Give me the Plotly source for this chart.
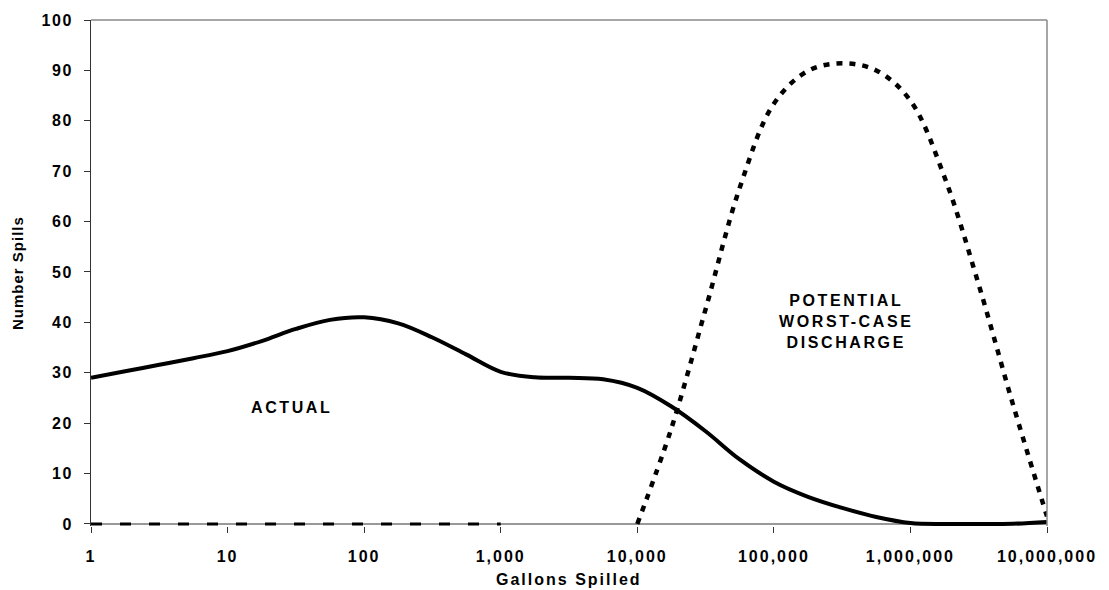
import plotly.graph_objects as go

# Gallons spilled (sample points at quarter-decade steps on the log axis)
gallons = [1, 1.778, 3.162, 5.623, 10, 17.78, 31.62, 56.23, 100, 177.8, 316.2, 562.3,
           1000, 1778, 3162, 5623, 10000, 17783, 31623, 56234, 100000, 177828, 316228,
           562341, 1000000, 1778279, 3162278, 5623413, 10000000]

actual = [29.0, 30.3, 31.6, 32.9, 34.3, 36.3, 38.7, 40.5, 41.0, 39.8, 37.0, 33.6,
          30.2, 29.1, 29.0, 28.7, 27.0, 23.3, 18.4, 12.8, 8.4, 5.4, 3.2, 1.4,
          0.2, 0.0, 0.0, 0.05, 0.4]

potential_gallons = [10000, 17783, 31623, 56234, 100000, 177828, 316228, 562341,
                     1000000, 1778279, 3162278, 5623413, 10000000]
potential = [0, 19, 42.6, 66.7, 83.4, 89.9, 91.4, 90.0, 84.0, 68.8, 47.5, 23.8, 1.5]

potential_low_gallons = [1, 1000]
potential_low = [0, 0]

x_ticks = [1, 10, 100, 1000, 10000, 100000, 1000000, 10000000]
x_labels = ["1", "10", "100", "1,000", "10,000", "100,000", "1,000,000", "10,000,000"]
y_ticks = [0, 10, 20, 30, 40, 50, 60, 70, 80, 90, 100]

FONT = "Liberation Sans, Arial, sans-serif"


def sp(text, px):
    return f'<span style="letter-spacing:{px}px">{text}</span>'


fig = go.Figure()
fig.add_trace(go.Scatter(x=potential_low_gallons, y=potential_low, mode="lines",
                         line=dict(color="black", width=3, dash="11px,18px"),
                         showlegend=False, hoverinfo="skip"))
fig.add_trace(go.Scatter(x=gallons, y=actual, mode="lines",
                         line=dict(color="black", width=4, shape="spline", smoothing=1),
                         showlegend=False))
fig.add_trace(go.Scatter(x=potential_gallons, y=potential, mode="lines",
                         line=dict(color="black", width=4.5, shape="spline", smoothing=1,
                                   dash="6px,7px"),
                         showlegend=False))

fig.update_layout(
    width=1109, height=590,
    margin=dict(l=91, r=54, t=16, b=64, pad=0),
    paper_bgcolor="white", plot_bgcolor="white",
    font=dict(family=FONT, size=16, color="black", weight="bold"),
    xaxis=dict(type="log", range=[0, 7], tickvals=x_ticks,
               ticktext=[sp(t, 2) for t in x_labels],
               ticks="outside", ticklen=6, tickcolor="#333", tickwidth=1,
               showgrid=False, zeroline=False, showline=False,
               tickfont=dict(family=FONT, size=16, color="black", weight="bold"),
               ticklabelstandoff=10),
    yaxis=dict(range=[-0.4, 100], tickvals=y_ticks,
               ticktext=[sp(str(v), 1.5) for v in y_ticks],
               ticks="outside", ticklen=6, tickcolor="#333", tickwidth=1,
               showgrid=False, zeroline=False, showline=True, linecolor="#333", linewidth=1,
               tickfont=dict(family=FONT, size=16, color="black", weight="bold"),
               ticklabelstandoff=8),
    shapes=[
        dict(type="line", xref="paper", yref="y", x0=0, x1=1, y0=0, y1=0,
             line=dict(color="#777", width=1.5), layer="below"),
        dict(type="line", xref="paper", yref="paper", x0=0, x1=1, y0=1, y1=1,
             line=dict(color="#888", width=1.5)),
        dict(type="line", xref="paper", yref="paper", x0=1, x1=1, y0=0, y1=1,
             line=dict(color="#888", width=1.5)),
    ],
    annotations=[
        dict(text=sp("ACTUAL", 2.6), x=1.47, y=23.1, xref="x", yref="y",
             showarrow=False, font=dict(family=FONT, size=16, color="black", weight="bold")),
        dict(text=sp("POTENTIAL", 2.6) + "<br>" + sp("WORST-CASE", 2.6) + "<br>" + sp("DISCHARGE", 2.6),
             x=5.527, y=40.2, xref="x", yref="y", showarrow=False, align="center",
             font=dict(family=FONT, size=16, color="black", weight="bold")),
        dict(text=sp("Gallons Spilled", 2), x=0.5, y=0, xref="paper", yref="paper",
             yanchor="middle", yshift=-53, showarrow=False,
             font=dict(family=FONT, size=16, color="black", weight="bold")),
        dict(text=sp("Number Spills", 1), x=0, y=0.5, xref="paper", yref="paper",
             xanchor="center", xshift=-74, textangle=-90, showarrow=False,
             font=dict(family=FONT, size=15, color="black", weight="bold")),
    ],
)

fig.write_html("out.html", config={"displayModeBar": False},
               post_script="document.body.style.margin='0';document.body.style.overflow='hidden';")
